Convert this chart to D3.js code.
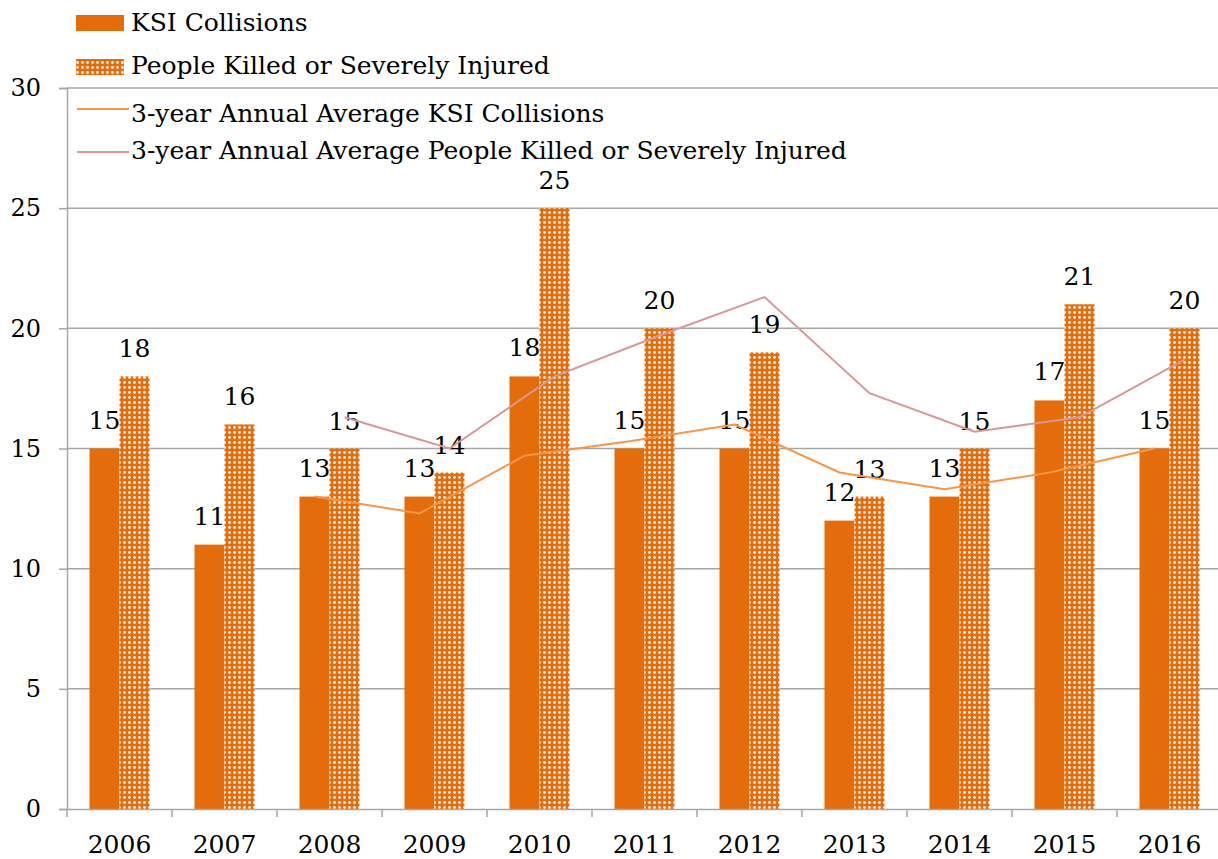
<!DOCTYPE html>
<html>
<head>
<meta charset="utf-8">
<script src="https://cdn.jsdelivr.net/npm/d3@7"></script>
<style>
  body { margin: 0; background: #fff; }
  svg text { font-family: "DejaVu Serif", "Liberation Serif", serif; fill: #000; }
</style>
</head>
<body>
<div id="chart"></div>
<script>
const years = ['2006', '2007', '2008', '2009', '2010', '2011', '2012', '2013', '2014', '2015', '2016']
const ksiCollisions = [15, 11, 13, 13, 18, 15, 15, 12, 13, 17, 15]
const peopleKsi = [18, 16, 15, 14, 25, 20, 19, 13, 15, 21, 20]
// 3-year averages start at 2008
const avgYears = ['2008', '2009', '2010', '2011', '2012', '2013', '2014', '2015', '2016']
const avgKsi = [13.0, 12.3, 14.7, 15.3, 16.0, 14.0, 13.3, 14.0, 15.0]
const avgPeople = [16.3, 15.0, 18.0, 19.7, 21.3, 17.3, 15.7, 16.3, 18.7]
const yTicks = [0, 5, 10, 15, 20, 25, 30]

const canvasWidth = 1218
const canvasHeight = 859
const margins = {top: 88, right: -4, bottom: 50, left: 67}
const plotBottom = canvasHeight - margins.bottom

const barColor = '#E46C0A'
const ksiLineColor = '#F79646'
const peopleLineColor = '#D99694'
const gridColor = '#A6A6A6'
const fontFamily = '"DejaVu Serif", "Liberation Serif", serif'

const svg = d3.select('#chart')
  .append('svg')
  .attr('width', canvasWidth)
  .attr('height', canvasHeight)

const defs = svg.append('defs')
const pattern = defs.append('pattern')
  .attr('id', 'dots')
  .attr('patternUnits', 'userSpaceOnUse')
  .attr('width', 5)
  .attr('height', 5)
pattern.append('rect').attr('width', 5).attr('height', 5).attr('fill', barColor)
pattern.append('circle').attr('cx', 2.5).attr('cy', 2.5).attr('r', 1.4).attr('fill', '#fff').attr('opacity', 0.9)

const xScale = d3.scaleBand()
  .domain(years)
  .range([margins.left, canvasWidth - margins.right])

const seriesScale = d3.scaleBand()
  .domain(['ksi', 'people'])
  .range([22.5, 82.5])

const yScale = d3.scaleLinear()
  .domain([0, 30])
  .range([plotBottom, margins.top])

// gridlines
svg.append('g')
  .selectAll('line')
  .data(yTicks.filter(t => t > 0))
  .enter()
  .append('line')
  .attr('x1', margins.left)
  .attr('x2', canvasWidth)
  .attr('y1', d => yScale(d))
  .attr('y2', d => yScale(d))
  .attr('stroke', gridColor)
  .attr('stroke-width', 1.5)

// y axis
const yAxis = d3.axisLeft(yScale).tickValues(yTicks).tickSize(8).tickPadding(18)
const yAxisG = svg.append('g')
  .attr('transform', `translate(${margins.left}, 0)`)
  .call(yAxis)
yAxisG.select('.domain').attr('stroke', gridColor).attr('stroke-width', 1.5)
yAxisG.selectAll('.tick line').attr('stroke', gridColor).attr('stroke-width', 1.5)
yAxisG.selectAll('.tick text')
  .attr('font-size', 24)
  .attr('font-family', fontFamily)
  .attr('fill', '#000')

// bars
const groups = svg.append('g')
  .selectAll('g.year')
  .data(years.map((y, i) => ({year: y, ksi: ksiCollisions[i], people: peopleKsi[i]})))
  .enter()
  .append('g')
  .attr('transform', d => `translate(${xScale(d.year)}, 0)`)

groups.append('rect')
  .attr('x', seriesScale('ksi'))
  .attr('width', seriesScale.bandwidth())
  .attr('y', d => yScale(d.ksi))
  .attr('height', d => plotBottom - yScale(d.ksi))
  .attr('fill', barColor)

groups.append('rect')
  .attr('x', seriesScale('people'))
  .attr('width', seriesScale.bandwidth())
  .attr('y', d => yScale(d.people))
  .attr('height', d => plotBottom - yScale(d.people))
  .attr('fill', 'url(#dots)')

// x axis
const xAxis = d3.axisBottom(xScale).tickSize(0).tickPadding(26)
const xAxisG = svg.append('g')
  .attr('transform', `translate(0, ${plotBottom})`)
  .call(xAxis)
xAxisG.select('.domain').attr('stroke', gridColor).attr('stroke-width', 1.5)
xAxisG.selectAll('.tick text')
  .attr('font-size', 25)
  .attr('font-family', fontFamily)
  .attr('fill', '#000')
svg.append('g')
  .selectAll('line')
  .data(years)
  .enter()
  .append('line')
  .attr('x1', d => xScale(d))
  .attr('x2', d => xScale(d))
  .attr('y1', plotBottom)
  .attr('y2', plotBottom + 8)
  .attr('stroke', gridColor)
  .attr('stroke-width', 1.5)

// average lines
const ksiLine = d3.line()
  .x(d => xScale(d.year) + seriesScale('ksi') + seriesScale.bandwidth() / 2)
  .y(d => yScale(d.value))
const peopleLine = d3.line()
  .x(d => xScale(d.year) + seriesScale('people') + seriesScale.bandwidth() / 2)
  .y(d => yScale(d.value))

svg.append('path')
  .datum(avgYears.map((y, i) => ({year: y, value: avgKsi[i]})))
  .attr('d', ksiLine)
  .attr('fill', 'none')
  .attr('stroke', ksiLineColor)
  .attr('stroke-width', 2)

svg.append('path')
  .datum(avgYears.map((y, i) => ({year: y, value: avgPeople[i]})))
  .attr('d', peopleLine)
  .attr('fill', 'none')
  .attr('stroke', peopleLineColor)
  .attr('stroke-width', 2)

// data labels
groups.append('text')
  .attr('x', seriesScale('ksi') + seriesScale.bandwidth() / 2)
  .attr('y', d => yScale(d.ksi) - 20)
  .attr('text-anchor', 'middle')
  .attr('font-size', 25)
  .text(d => d.ksi)

groups.append('text')
  .attr('x', seriesScale('people') + seriesScale.bandwidth() / 2)
  .attr('y', d => yScale(d.people) - 19)
  .attr('text-anchor', 'middle')
  .attr('font-size', 25)
  .text(d => d.people)

// legend
const legend = svg.append('g')
legend.append('rect').attr('x', 76).attr('y', 15).attr('width', 48).attr('height', 16).attr('fill', barColor)
legend.append('text').attr('x', 131).attr('y', 31).attr('font-size', 25).text('KSI Collisions')
legend.append('rect').attr('x', 76).attr('y', 59).attr('width', 48).attr('height', 16).attr('fill', 'url(#dots)')
legend.append('text').attr('x', 131).attr('y', 74).attr('font-size', 25).text('People Killed or Severely Injured')
legend.append('line').attr('x1', 77).attr('x2', 129).attr('y1', 109).attr('y2', 109)
  .attr('stroke', ksiLineColor).attr('stroke-width', 2)
legend.append('text').attr('x', 131).attr('y', 122).attr('font-size', 25).text('3-year Annual Average KSI Collisions')
legend.append('line').attr('x1', 77).attr('x2', 129).attr('y1', 152).attr('y2', 152)
  .attr('stroke', peopleLineColor).attr('stroke-width', 2)
legend.append('text').attr('x', 131).attr('y', 159).attr('font-size', 25).text('3-year Annual Average People Killed or Severely Injured')
</script>
</body>
</html>
